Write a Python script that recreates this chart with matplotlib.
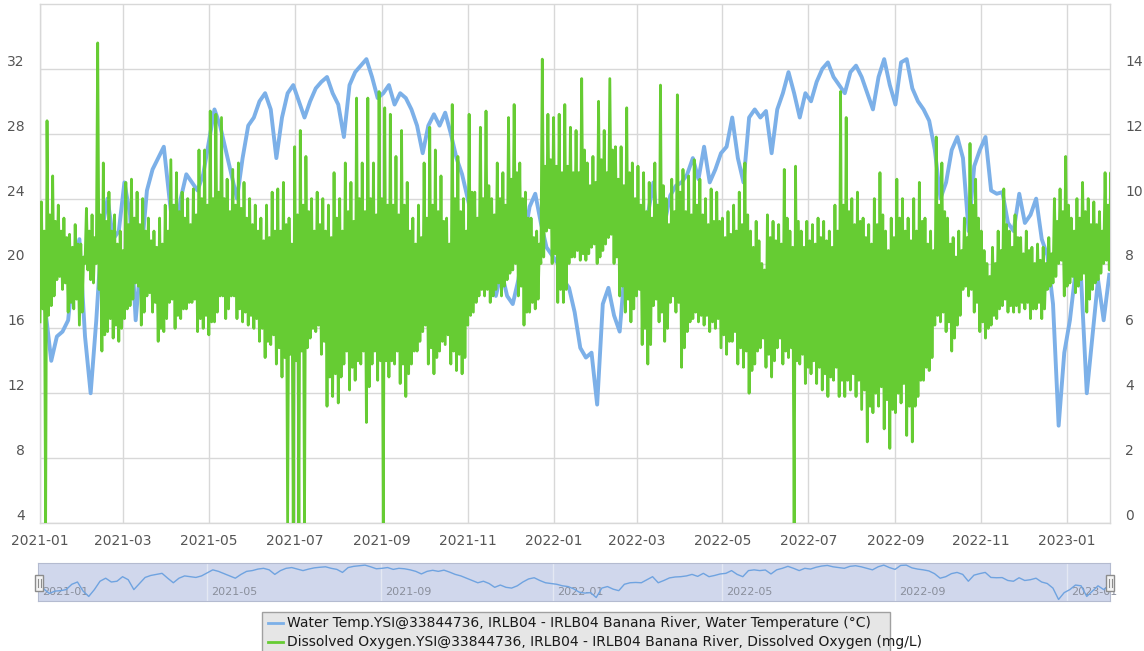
import numpy as np
import matplotlib
matplotlib.use("Agg")
import matplotlib.pyplot as plt
import matplotlib.dates as mdates
from matplotlib.patches import Rectangle
from matplotlib.lines import Line2D

# ---------------- data (one block every 4 days) ----------------
start_date = "2021-01-01"
end_date = "2023-01-31T12"
step_days = 4

# Water temperature (deg C), left axis
water_temp = [
    20.0, 17.0, 14.0, 15.5, 15.8, 16.5, 20.0, 21.5, 15.5, 12.0,
    16.5, 22.0, 24.0, 21.5, 22.0, 25.0, 23.0, 16.5, 20.5, 24.5,
    25.8, 26.5, 27.2, 24.0, 21.0, 24.0, 25.5, 25.0, 24.5, 25.5,
    27.5, 29.5, 28.5, 27.0, 25.5, 24.0, 26.5, 28.5, 29.0, 30.0,
    30.5, 29.5, 26.5, 29.0, 30.5, 31.0, 30.0, 29.0, 30.0, 30.8,
    31.2, 31.5, 30.5, 29.8, 27.8, 31.0, 31.8, 32.2, 32.6, 31.5,
    30.2, 30.5, 31.0, 29.8, 30.5, 30.2, 29.5, 28.5, 26.8, 28.5,
    29.2, 28.5, 29.3, 28.0, 26.5, 25.5, 24.0, 22.5, 21.0, 22.0,
    20.5, 18.0, 19.5, 18.0, 17.5, 19.0, 21.5, 23.5, 24.3, 22.5,
    21.0, 20.5, 20.0, 19.0, 18.5, 17.0, 14.8, 14.2, 14.5, 11.3,
    17.5, 18.5, 16.8, 15.8, 20.0, 21.0, 21.2, 21.0, 23.0, 25.0,
    21.0, 22.5, 24.2, 24.8, 25.0, 25.5, 26.5, 25.2, 27.2, 25.0,
    25.8, 26.8, 27.2, 29.0, 26.5, 25.0, 29.0, 29.5, 29.0, 29.4,
    26.8, 29.5, 30.5, 31.8, 30.5, 29.0, 30.5, 30.0, 31.2, 32.0,
    32.4, 31.5, 31.0, 30.5, 31.8, 32.2, 31.5, 30.5, 29.5, 31.5,
    32.6, 31.0, 29.8, 32.4, 32.6, 30.8, 30.0, 29.5, 28.8, 27.0,
    24.0, 25.0, 27.0, 27.8, 26.5, 22.0, 26.0, 27.0, 27.8, 24.5,
    24.3, 24.4, 22.5, 22.0, 24.3, 22.5, 23.0, 24.0, 21.5, 20.5,
    17.5, 10.0, 14.5, 16.5, 19.5, 19.0, 12.0, 15.5, 19.0, 16.5,
    19.3,
]

# Dissolved oxygen (mg/L), right axis.
# Per 4-day block: extreme high / extreme low, and the typical daily high / low.
do_high = [
    9.9, 12.4, 10.7, 9.8, 9.4, 8.9, 9.2, 8.6, 9.7, 9.5,
    14.8, 11.1, 10.2, 9.5, 9.0, 10.5, 10.6, 10.2, 10.0, 9.4,
    9.0, 9.4, 9.8, 11.2, 10.8, 10.2, 10.0, 10.3, 11.5, 11.5,
    12.7, 12.6, 12.5, 10.6, 10.9, 11.1, 10.5, 10.0, 9.8, 9.4,
    9.8, 10.2, 10.3, 10.5, 9.4, 11.6, 12.1, 11.3, 10.0, 10.2,
    10.0, 9.8, 10.8, 10.0, 11.1, 10.5, 13.1, 11.1, 13.1, 11.1,
    13.3, 12.8, 12.6, 11.3, 12.1, 10.5, 9.4, 9.8, 11.1, 12.2,
    11.5, 10.7, 9.4, 12.9, 11.3, 10.0, 12.6, 10.2, 12.2, 12.7,
    10.0, 11.1, 10.8, 12.5, 12.9, 11.1, 10.2, 9.4, 9.0, 14.3,
    12.6, 12.5, 12.6, 12.9, 12.2, 12.1, 13.7, 11.1, 11.3, 13.0,
    12.1, 13.7, 11.6, 11.6, 12.8, 11.1, 11.0, 10.8, 10.5, 11.1,
    13.5, 10.0, 10.6, 13.2, 10.9, 10.7, 11.2, 10.6, 10.0, 10.3,
    10.2, 9.4, 9.6, 9.8, 10.2, 11.1, 9.0, 9.3, 8.0, 9.5,
    9.3, 9.2, 10.9, 9.0, 11.0, 9.0, 9.3, 9.2, 9.4, 9.3,
    9.0, 9.8, 13.3, 12.5, 10.0, 10.2, 9.4, 9.2, 10.0, 10.8,
    9.0, 9.4, 10.6, 10.0, 9.4, 10.0, 10.5, 9.4, 9.0, 11.9,
    11.1, 9.4, 8.8, 9.0, 9.4, 11.7, 10.6, 9.0, 8.0, 8.5,
    9.0, 10.3, 9.0, 9.5, 8.8, 9.0, 8.5, 8.6, 8.5, 8.8,
    10.0, 10.3, 11.3, 9.4, 10.0, 10.5, 10.0, 9.9, 9.6, 10.8,
    10.8,
]
do_low = [
    6.2, 0.0, 6.7, 7.5, 7.2, 6.5, 6.6, 6.1, 8.0, 7.5,
    8.0, 5.3, 5.9, 5.7, 5.6, 6.3, 6.7, 7.4, 6.1, 7.0,
    6.5, 5.6, 5.9, 6.8, 6.0, 6.3, 6.6, 6.8, 5.9, 6.0,
    5.8, 6.2, 7.0, 6.3, 7.0, 6.3, 6.2, 6.1, 6.0, 5.6,
    5.1, 5.5, 4.9, 4.5, 0.0, 0.0, 0.0, 0.0, 5.7, 5.9,
    5.2, 3.6, 3.9, 3.7, 4.9, 4.1, 4.4, 4.9, 3.1, 4.9,
    4.4, 0.0, 4.5, 4.9, 4.3, 3.9, 4.9, 5.3, 5.9, 4.9,
    4.6, 5.3, 5.5, 4.9, 4.7, 4.6, 6.1, 6.5, 7.0, 7.0,
    6.8, 7.2, 7.0, 7.5, 7.8, 7.0, 6.1, 6.5, 6.6, 8.0,
    9.0, 8.0, 6.8, 6.8, 8.0, 8.2, 8.1, 8.1, 8.5, 8.0,
    8.4, 8.8, 8.0, 7.0, 6.5, 6.2, 7.0, 5.5, 4.9, 6.7,
    6.2, 5.6, 6.8, 6.5, 4.8, 5.9, 6.3, 6.2, 6.1, 5.9,
    6.0, 5.4, 5.2, 5.6, 4.9, 4.8, 4.0, 4.9, 5.4, 4.8,
    4.5, 5.4, 4.9, 5.1, 0.0, 4.9, 4.3, 4.6, 4.3, 4.1,
    3.9, 4.4, 3.9, 3.9, 4.1, 3.9, 3.5, 2.5, 3.4, 3.6,
    2.9, 2.3, 3.4, 3.7, 2.7, 2.5, 3.9, 4.4, 4.7, 6.1,
    6.2, 5.9, 5.3, 6.1, 7.2, 7.0, 6.5, 5.9, 5.7, 6.1,
    6.3, 6.7, 6.5, 6.5, 6.5, 6.6, 6.3, 6.6, 6.3, 7.2,
    7.4, 8.0, 7.0, 7.4, 7.1, 7.5, 6.5, 7.2, 7.5, 8.0,
    7.8,
]
do_high_typ = [
    9.0, 9.5, 9.3, 9.0, 8.8, 8.5, 8.6, 8.2, 9.0, 8.8,
    9.5, 9.3, 9.0, 8.6, 8.4, 9.2, 9.4, 9.2, 9.0, 8.7,
    8.5, 8.6, 9.0, 9.8, 9.6, 9.4, 9.2, 9.5, 10.0, 9.8,
    10.0, 10.2, 10.0, 9.6, 9.8, 9.7, 9.4, 9.2, 9.0, 8.7,
    8.8, 9.0, 9.0, 9.2, 8.6, 9.5, 9.8, 9.6, 9.0, 9.2,
    9.0, 8.8, 9.4, 9.0, 9.6, 9.3, 10.0, 9.6, 10.0, 9.5,
    10.0, 9.8, 9.8, 9.5, 9.8, 9.0, 8.6, 8.8, 9.4, 9.8,
    9.6, 9.3, 8.6, 10.0, 9.6, 9.0, 10.2, 9.4, 10.0, 10.4,
    9.5, 10.0, 9.8, 10.6, 10.8, 10.0, 9.4, 8.8, 8.6, 11.0,
    11.2, 11.0, 10.8, 11.0, 10.8, 10.8, 11.5, 10.4, 10.5, 11.2,
    10.8, 11.5, 10.6, 10.4, 10.8, 10.0, 9.8, 9.6, 9.4, 9.8,
    10.4, 9.2, 9.6, 10.2, 9.6, 9.5, 9.8, 9.5, 9.2, 9.3,
    9.3, 8.8, 8.9, 9.0, 9.2, 9.5, 8.5, 8.7, 7.8, 8.8,
    8.7, 8.6, 9.4, 8.5, 9.3, 8.5, 8.7, 8.6, 8.8, 8.7,
    8.5, 9.0, 9.8, 9.6, 9.2, 9.3, 8.8, 8.6, 9.2, 9.5,
    8.4, 8.8, 9.4, 9.0, 8.7, 9.0, 9.3, 8.6, 8.4, 9.8,
    9.6, 8.6, 8.2, 8.4, 8.8, 9.8, 9.4, 8.4, 7.6, 8.0,
    8.4, 9.2, 8.5, 8.8, 8.3, 8.4, 8.0, 8.1, 8.0, 8.3,
    9.3, 9.6, 9.8, 9.0, 9.4, 9.6, 9.2, 9.2, 9.0, 9.8,
    9.8,
]
do_low_typ = [
    6.6, 6.4, 7.0, 7.6, 7.4, 6.8, 6.9, 6.5, 7.8, 7.4,
    7.2, 5.8, 6.3, 6.1, 6.0, 6.6, 6.9, 7.3, 6.5, 7.1,
    6.8, 6.0, 6.3, 6.9, 6.4, 6.6, 6.8, 6.9, 6.3, 6.4,
    6.2, 6.5, 7.0, 6.6, 7.0, 6.6, 6.5, 6.4, 6.3, 6.0,
    5.6, 5.8, 5.4, 5.1, 5.2, 5.0, 5.3, 5.4, 6.0, 6.1,
    5.6, 4.5, 4.6, 4.5, 5.3, 4.8, 5.0, 5.3, 4.2, 5.3,
    5.0, 5.0, 5.0, 5.3, 4.9, 4.6, 5.3, 5.6, 6.1, 5.4,
    5.1, 5.6, 5.8, 5.3, 5.2, 5.1, 6.4, 6.8, 7.2, 7.2,
    7.0, 7.4, 7.3, 7.7, 8.0, 7.3, 6.5, 6.8, 6.9, 8.2,
    9.1, 8.3, 7.2, 7.2, 8.2, 8.4, 8.3, 8.3, 8.6, 8.2,
    8.6, 8.9, 8.2, 7.3, 6.9, 6.6, 7.2, 6.0, 5.5, 6.9,
    6.5, 6.0, 7.0, 6.8, 5.4, 6.2, 6.5, 6.4, 6.4, 6.2,
    6.3, 5.8, 5.6, 5.9, 5.4, 5.3, 4.7, 5.3, 5.7, 5.2,
    5.0, 5.7, 5.3, 5.4, 5.0, 5.2, 4.8, 5.0, 4.8, 4.6,
    4.5, 4.8, 4.4, 4.4, 4.6, 4.4, 4.1, 3.6, 4.0, 4.2,
    3.8, 3.5, 4.0, 4.3, 3.6, 3.6, 4.4, 4.8, 5.1, 6.4,
    6.5, 6.2, 5.7, 6.4, 7.3, 7.2, 6.8, 6.2, 6.0, 6.4,
    6.6, 6.9, 6.7, 6.7, 6.8, 6.8, 6.6, 6.8, 6.6, 7.3,
    7.6, 8.1, 7.3, 7.6, 7.3, 7.7, 6.9, 7.4, 7.7, 8.1,
    8.0,
]

main_ticks_months = [1, 3, 5, 7, 9, 11]
nav_labels = ["2021-01", "2021-05", "2021-09", "2022-01", "2022-05", "2022-09", "2023-01"]
legend_labels = [
    "Water Temp.YSI@33844736, IRLB04 - IRLB04 Banana River, Water Temperature (\u00b0C)",
    "Dissolved Oxygen.YSI@33844736, IRLB04 - IRLB04 Banana River, Dissolved Oxygen (mg/L)",
]

assert len(water_temp) == len(do_high) == len(do_low) == len(do_high_typ) == len(do_low_typ)

# ---------------- build time axes ----------------
n = len(water_temp)
t0 = np.datetime64(start_date, "h")
times = t0 + np.arange(n) * np.timedelta64(24 * step_days, "h")
one_day = np.timedelta64(24, "h")
do_times = np.empty(4 * n, dtype="datetime64[h]")
do_vals = np.empty(4 * n)
for k, series in enumerate([do_low, do_high, do_low_typ, do_high_typ]):
    do_times[k::4] = times + k * one_day
    do_vals[k::4] = series

BLUE = "#7cb0e8"
GREEN = "#66cc33"
GRID = "#d8d8d8"
TXT = "#555555"

W, H = 1144, 651
fig = plt.figure(figsize=(W / 100, H / 100), dpi=100)
fig.patch.set_facecolor("white")


def fx(px):
    return px / W


def fy(py):
    return 1 - py / H


xmin = np.datetime64(start_date, "h")
xmax = np.datetime64(end_date, "h")

ax = fig.add_axes([fx(40), fy(523), fx(1110) - fx(40), fy(4) - fy(523)])
ax.plot(times, water_temp, color=BLUE, lw=2.8, solid_joinstyle="round", zorder=3)
ax.set_xlim(xmin, xmax)
ax.set_ylim(4, 36)
ax.set_yticks(range(4, 33, 4))
ax.xaxis.set_major_locator(mdates.MonthLocator(bymonth=main_ticks_months))
ax.xaxis.set_major_formatter(mdates.DateFormatter("%Y-%m"))
ax.grid(True, color=GRID, lw=1)
ax.set_axisbelow(True)
for s in ax.spines.values():
    s.set_color(GRID)
    s.set_linewidth(1)
ax.tick_params(axis="both", length=0, labelsize=10, colors=TXT)
ax.tick_params(axis="y", pad=11)
ax.tick_params(axis="x", pad=8)

ax2 = ax.twinx()
ax2.plot(do_times, do_vals, color=GREEN, lw=2.0, solid_joinstyle="round", zorder=4)
ax2.set_ylim(0, 16)
ax2.set_yticks(range(0, 15, 2))
ax2.set_xlim(xmin, xmax)
for s in ax2.spines.values():
    s.set_visible(False)
ax2.tick_params(axis="y", length=0, labelsize=10, colors=TXT, pad=11)

for lbl in ax.get_yticklabels() + ax2.get_yticklabels():
    lbl.set_verticalalignment("bottom")

# ---------------- navigator ----------------
nav = fig.add_axes([fx(38), fy(601), fx(1110) - fx(38), fy(563) - fy(601)])
nav.set_facecolor("#d0d7ec")
nav.set_xlim(xmin, xmax)
nav.set_ylim(9, 34)
for lab in nav_labels:
    d = np.datetime64(lab, "h")
    nav.axvline(d, color="#e4e8f3", lw=1, zorder=1)
    nav.annotate(lab, xy=(d, 0), xycoords=("data", "axes fraction"),
                 xytext=(3, 3), textcoords="offset points",
                 fontsize=8, color="#8a8f9c", ha="left", va="bottom", zorder=2)
nav.plot(times, water_temp, color="#6fa3e0", lw=1, zorder=3)
nav.set_xticks([])
nav.set_yticks([])
for s in nav.spines.values():
    s.set_color("#b4bbd0")

for hx in (39, 1110):
    fig.add_artist(Rectangle((fx(hx - 4), fy(591)), 8 / W, 16 / H, transform=fig.transFigure,
                             facecolor="#f4f4f4", edgecolor="#8c8c8c", lw=1, zorder=10))
    for dx in (-1.5, 1.5):
        fig.add_artist(Line2D([fx(hx + dx), fx(hx + dx)], [fy(587), fy(579)],
                              color="#8c8c8c", lw=0.8, transform=fig.transFigure, zorder=11))

# ---------------- legend ----------------
fig.add_artist(Rectangle((fx(262), -0.01), fx(890) - fx(262), fy(612) + 0.01,
                         transform=fig.transFigure, facecolor="#e6e6e6",
                         edgecolor="#a0a0a0", lw=1, zorder=5))
for i, (lab, col) in enumerate(zip(legend_labels, [BLUE, GREEN])):
    yy = fy(623 + 19 * i)
    fig.add_artist(Line2D([fx(268), fx(283)], [yy, yy], color=col, lw=2,
                          transform=fig.transFigure, zorder=6))
    fig.text(fx(287), yy, lab, fontsize=10, color="#1a1a1a", va="center",
             ha="left", zorder=7)

fig.savefig("out.png", dpi=100)
